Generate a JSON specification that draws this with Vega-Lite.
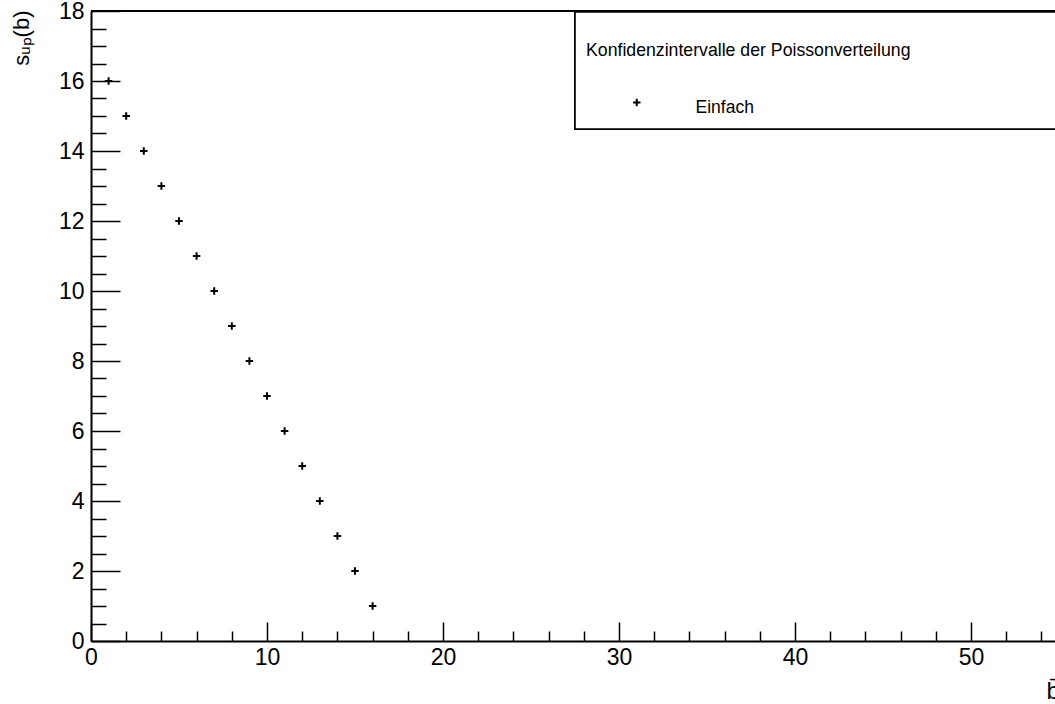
{
  "$schema": "https://vega.github.io/schema/vega-lite/v6.json",
  "width": 964,
  "height": 630,
  "autosize": {"type": "none"},
  "padding": {"left": 91, "top": 11, "right": 0, "bottom": 63},
  "background": "white",
  "config": {"font": "Liberation Sans", "view": {"stroke": null}},
  "data": {
    "values": [
      {"b": 1, "s": 16, "serie": "Einfach"},
      {"b": 2, "s": 15, "serie": "Einfach"},
      {"b": 3, "s": 14, "serie": "Einfach"},
      {"b": 4, "s": 13, "serie": "Einfach"},
      {"b": 5, "s": 12, "serie": "Einfach"},
      {"b": 6, "s": 11, "serie": "Einfach"},
      {"b": 7, "s": 10, "serie": "Einfach"},
      {"b": 8, "s": 9, "serie": "Einfach"},
      {"b": 9, "s": 8, "serie": "Einfach"},
      {"b": 10, "s": 7, "serie": "Einfach"},
      {"b": 11, "s": 6, "serie": "Einfach"},
      {"b": 12, "s": 5, "serie": "Einfach"},
      {"b": 13, "s": 4, "serie": "Einfach"},
      {"b": 14, "s": 3, "serie": "Einfach"},
      {"b": 15, "s": 2, "serie": "Einfach"},
      {"b": 16, "s": 1, "serie": "Einfach"}
    ]
  },
  "layer": [
    {
      "mark": {"type": "point", "filled": false, "shape": "M-1,0H1M0,-1V1", "strokeWidth": 2, "size": 56, "opacity": 1},
      "encoding": {
        "x": {
          "field": "b",
          "type": "quantitative",
          "scale": {"domain": [0, 54.77], "nice": false, "zero": false},
          "axis": {
            "title": "b̄",
            "values": [0, 2, 4, 6, 8, 10, 12, 14, 16, 18, 20, 22, 24, 26, 28, 30, 32, 34, 36, 38, 40, 42, 44, 46, 48, 50, 52, 54],
            "tickCount": 200,
            "tickSize": {"condition": {"test": "datum.value % 10 === 0", "value": -19}, "value": -10},
            "labelExpr": "datum.value % 10 === 0 ? '' + datum.value : ''",
            "labelPadding": 24.5,
            "labelBaseline": "top",
            "labelFontSize": 23,
            "labelColor": "black",
            "labelFlush": false,
            "labelOverlap": false,
            "labelBound": false,
            "tickColor": "black",
            "tickWidth": 1.5,
            "domainColor": "black",
            "domainWidth": 2,
            "grid": false,
            "titleFontSize": 24,
            "titleFontWeight": "normal",
            "titleColor": "black",
            "titleX": 955,
            "titleY": 57,
            "titleAlign": "left",
            "titleBaseline": "alphabetic"
          }
        },
        "y": {
          "field": "s",
          "type": "quantitative",
          "scale": {"domain": [0, 18], "nice": false},
          "axis": {
            "title": "sᵤₚ(b)",
            "values": [0, 0.5, 1, 1.5, 2, 2.5, 3, 3.5, 4, 4.5, 5, 5.5, 6, 6.5, 7, 7.5, 8, 8.5, 9, 9.5, 10, 10.5, 11, 11.5, 12, 12.5, 13, 13.5, 14, 14.5, 15, 15.5, 16, 16.5, 17, 17.5, 18],
            "tickCount": 200,
            "tickSize": {"condition": {"test": "datum.value % 2 === 0", "value": -29}, "value": -15},
            "labelExpr": "datum.value % 2 === 0 ? '' + datum.value : ''",
            "labelPadding": 36,
            "labelFontSize": 23,
            "labelColor": "black",
            "labelFlush": false,
            "labelOverlap": false,
            "labelBound": false,
            "tickColor": "black",
            "tickWidth": 1.5,
            "domainColor": "black",
            "domainWidth": 2,
            "grid": false,
            "titleFontSize": 22,
            "titleFontWeight": "normal",
            "titleColor": "black",
            "titleAngle": -90,
            "titleX": -63,
            "titleY": -1,
            "titleAlign": "right",
            "titleBaseline": "alphabetic"
          }
        },
        "color": {
          "field": "serie",
          "type": "nominal",
          "scale": {"range": ["black"]},
          "legend": {
            "orient": "none",
            "legendX": 495,
            "legendY": 31,
            "title": "Konfidenzintervalle der Poissonverteilung",
            "titleFontSize": 17.7,
            "titleFontWeight": "normal",
            "titleColor": "black",
            "titleLimit": 1000,
            "titlePadding": 39.5,
            "labelFontSize": 17.5,
            "labelColor": "black",
            "symbolType": "M-1,-1.47H1M0,-2.47V-0.47",
            "symbolOffset": 42,
            "labelOffset": 50,
            "symbolSize": 56,
            "symbolStrokeWidth": 2,
            "symbolFillColor": "transparent",
            "padding": 0
          }
        }
      }
    },
    {
      "mark": {"type": "rule", "color": "black", "strokeWidth": 2},
      "encoding": {
        "y": {"datum": 18, "type": "quantitative"}
      }
    },
    {
      "mark": {"type": "rect", "fill": "white", "stroke": "black", "strokeWidth": 1.5, "clip": false},
      "encoding": {
        "x": {"datum": 27.5, "type": "quantitative"},
        "x2": {"datum": 57},
        "y": {"datum": 14.63, "type": "quantitative"},
        "y2": {"datum": 17.97}
      }
    }
  ]
}
